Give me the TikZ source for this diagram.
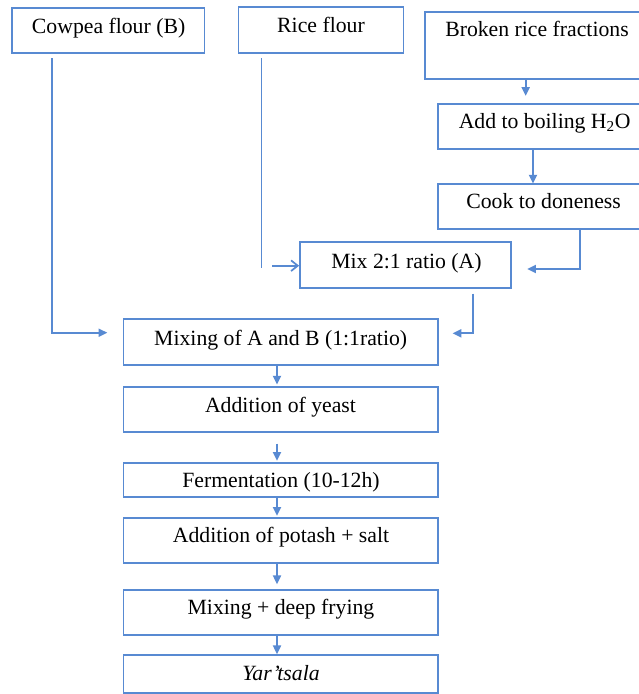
\documentclass[tikz,border=0pt]{standalone}
\usepackage{fontspec}
\setmainfont{Liberation Serif}
\usetikzlibrary{arrows.meta}
\definecolor{lnc}{RGB}{88,138,210}
\begin{document}
\begin{tikzpicture}[x=0.75pt,y=-0.75pt,
  box/.style={draw=lnc, line width=1.3pt, rectangle, inner sep=0pt},
  txt/.style={anchor=base, inner sep=0pt, font=\fontsize{16.3}{19}\selectfont},
  conn/.style={draw=lnc, line width=1.3pt},
  arr/.style={conn, -{Triangle[length=6.5pt,width=6pt]}},
  oarr/.style={conn, -{Straight Barb[length=5pt,width=8pt]}}]
\clip (0,0) rectangle (639,694);
\fill[white] (0,0) rectangle (639,694);
% boxes
\node[box, minimum width=192.4*0.75pt, minimum height=45*0.75pt] (cow) at (108.4,30.8) {};
\node[box, minimum width=165*0.75pt, minimum height=45.4*0.75pt] (rice) at (320.9,30) {};
\node[box, minimum width=225*0.75pt, minimum height=66.7*0.75pt] (broken) at (537.5,45.35) {};
\node[box, minimum width=212*0.75pt, minimum height=45.3*0.75pt] (add) at (544,126.65) {};
\node[box, minimum width=212*0.75pt, minimum height=44.4*0.75pt] (cook) at (544,206.5) {};
\node[box, minimum width=211*0.75pt, minimum height=45.4*0.75pt] (mix) at (405.5,265) {};
\node[box, minimum width=314.5*0.75pt, minimum height=46*0.75pt] (mixab) at (280.75,342.3) {};
\node[box, minimum width=314.5*0.75pt, minimum height=45*0.75pt] (yeast) at (280.75,409.8) {};
\node[box, minimum width=314.5*0.75pt, minimum height=34*0.75pt] (ferm) at (280.75,479.7) {};
\node[box, minimum width=314.5*0.75pt, minimum height=45.3*0.75pt] (potash) at (280.75,540.65) {};
\node[box, minimum width=314.5*0.75pt, minimum height=45*0.75pt] (fry) at (280.75,612.5) {};
\node[box, minimum width=314.5*0.75pt, minimum height=37.7*0.75pt] (yar) at (280.75,673.85) {};
% texts
\node[txt] (tcow) at (108.6,33.3) {Cowpea flour (B)};
\node[txt] (trice) at (321,32.3) {Rice flour};
\node[txt] (tbroken) at (537,36.7) {Broken rice fractions};
\node[txt] (tadd) at (544.7,128.3) {Add to boiling H\textsubscript{2}O};
\node[txt] (tcook) at (543.6,208.3) {Cook to doneness};
\node[txt] (tmix) at (406.5,268.3) {Mix 2:1 ratio (A)};
\node[txt] (tmixab) at (280.7,345) {Mixing of A and B (1:1ratio)};
\node[txt] (tyeast) at (280.5,412.7) {Addition of yeast};
\node[txt] (tferm) at (281,487.3) {Fermentation (10-12h)};
\node[txt] (tpotash) at (281,542.3) {Addition of potash + salt};
\node[txt] (tfry) at (281,614.3) {Mixing + deep frying};
\node[txt] (tyar) at (281,680) {\textit{Yar’tsala}};
% connector coordinates
\coordinate (c1) at (525.7,0);
\coordinate (c2) at (533,0);
\coordinate (k) at (580,269);
\coordinate (r) at (261.6,267.7);
\coordinate (ra) at (272,265.7);
\coordinate (cb) at (52.2,332.7);
\coordinate (ma) at (472.7,333.3);
\coordinate (v) at (277,0);
% connectors
\draw[arr, shorten >=5.5pt] (broken.south -| c1) -- (add.north -| c1);
\draw[arr] (add.south -| c2) -- (cook.north -| c2);
\draw[arr, shorten >=11.5pt] (cook.south -| k) |- (mix.east |- k);
\draw[conn, shorten <=3.5pt] (rice.south -| r) -- (r);
\draw[oarr] (ra) -- (mix.west |- ra);
\draw[arr, shorten <=3pt, shorten >=11.5pt] (cow.south -| cb) |- (mixab.west |- cb);
\draw[arr, shorten <=3.75pt, shorten >=10.3pt] (mix.south -| ma) |- (mixab.east |- ma);
\draw[arr, shorten >=1.5pt] (mixab.south -| v) -- (yeast.north -| v);
\draw[arr, shorten <=7.8pt, shorten >=0.75pt] (yeast.south -| v) -- (ferm.north -| v);
\draw[arr, shorten >=1pt] (ferm.south -| v) -- (potash.north -| v);
\draw[arr, shorten >=3.75pt] (potash.south -| v) -- (fry.north -| v);
\draw[arr] (fry.south -| v) -- (yar.north -| v);
\end{tikzpicture}
\end{document}
